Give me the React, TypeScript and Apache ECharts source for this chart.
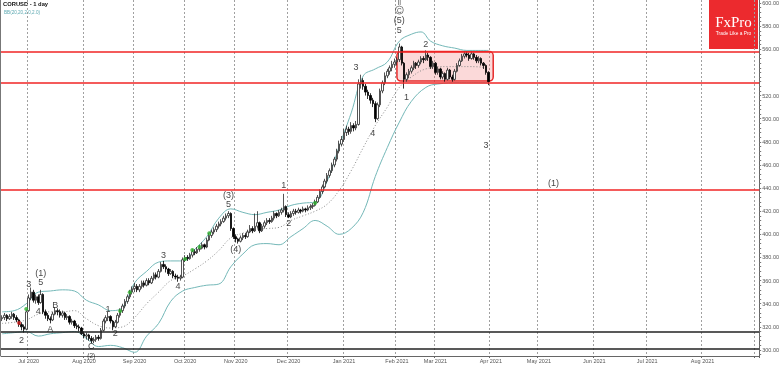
import React, { useEffect, useRef } from "react";
import * as echarts from "echarts";

// ---------- categories: month name + number of bars in that month ----------
const months: [string, number][] = [
  ["Jun 2020", 11], ["Jul 2020", 23], ["Aug 2020", 21], ["Sep 2020", 21],
  ["Oct 2020", 21], ["Nov 2020", 22], ["Dec 2020", 23], ["Jan 2021", 22],
  ["Feb 2021", 16], ["Mar 2021", 23], ["Apr 2021", 20], ["May 2021", 23],
  ["Jun 2021", 22], ["Jul 2021", 23], ["Aug 2021", 22], ["Sep 2021", 2],
];

// ---------- candles [open, close, low, high] ----------
const jun2020 = [
  [327,328,325,330],[328,330,326,332],[330,327,325,331],[327,329,326,331],[329,331,327,333],
  [331,328,326,332],[328,326,324,330],[326,322,320,327],[322,320,317,324],[320,318,315,322],
  [318,333,317,335],
];
const jul2020 = [
  [334,345,333,348],[345,350,343,354],[350,343,341,352],[343,346,340,348],[346,341,339,348],
  [341,348,340,352],[348,333,331,349],[333,330,327,335],[330,327,325,332],[327,326,323,329],
  [326,331,325,333],[331,334,330,337],[334,333,330,336],[333,330,328,335],[330,332,328,334],
  [332,328,326,333],[328,329,326,331],[329,324,322,330],[324,325,322,327],[325,321,319,326],
  [321,320,318,323],[320,319,316,322],[319,314,313,320],
];
const aug2020 = [
  [314,312,310,316],[312,313,309,315],[313,310,308,314],[310,308,306,312],[308,309,306,311],
  [309,311,307,313],[311,310,308,313],[310,317,309,319],[317,325,316,327],[325,328,323,330],
  [328,329,325,333],[329,325,323,330],[325,320,317,326],[320,324,319,326],[324,330,323,332],
  [330,334,328,336],[334,338,332,340],[338,342,336,344],[342,346,340,348],[346,350,344,352],
  [350,353,348,355],
];
const sep2020 = [
  [353,355,350,358],[355,352,350,357],[352,355,350,357],[355,358,353,360],[358,356,354,360],
  [356,360,355,362],[360,358,356,362],[358,362,357,364],[362,365,360,367],[365,363,361,367],
  [363,368,362,370],[368,374,367,376],[374,372,370,377],[372,370,367,374],[370,366,364,371],
  [366,368,365,370],[368,364,362,369],[364,363,361,366],[363,362,359,365],[362,363,360,365],
  [363,378,362,380],
];
const oct2020 = [
  [378,380,376,382],[380,379,377,382],[379,382,378,384],[382,385,380,387],[385,384,382,387],
  [384,387,383,389],[387,388,385,391],[388,391,387,393],[391,389,387,392],[389,395,388,397],
  [395,399,394,401],[399,402,397,404],[402,404,400,406],[404,407,402,409],[407,409,405,411],
  [409,411,407,413],[411,414,410,416],[414,416,412,418],[416,418,414,420],[418,405,403,419],
  [405,398,396,406],
];
const nov2020 = [
  [398,396,393,400],[396,394,392,397],[394,397,393,399],[397,399,395,401],[399,398,396,401],
  [398,402,397,404],[402,405,401,408],[405,403,401,407],[403,407,402,418],[407,410,405,420],
  [410,403,401,411],[403,407,402,409],[407,410,405,412],[410,412,408,414],[412,411,409,414],
  [411,414,410,416],[414,418,412,420],[418,416,414,419],[416,419,415,421],[419,421,417,423],
  [421,424,419,435],[424,417,415,425],
];
const dec2020 = [
  [417,415,414,419],[415,418,414,420],[418,420,416,422],[420,419,417,422],[419,421,418,423],
  [421,420,418,422],[420,422,419,424],[422,421,419,423],[421,423,420,425],[423,424,421,426],
  [424,425,422,427],[425,428,424,430],[428,432,427,434],[432,437,431,439],[437,441,435,443],
  [441,446,440,448],[446,451,444,453],[451,455,449,457],[455,460,453,462],[460,465,458,467],
  [465,472,463,474],[472,478,470,481],[478,482,476,485],
];
const jan2021 = [
  [482,488,480,491],[488,491,485,494],[491,489,486,493],[489,494,487,497],[494,492,489,496],
  [492,495,490,498],[495,530,494,534],[530,533,526,538],[533,528,525,535],[528,523,520,530],
  [523,520,517,525],[520,516,513,522],[516,513,510,518],[513,500,497,515],[500,512,499,514],
  [512,524,510,526],[524,531,522,533],[531,537,529,540],[537,541,535,543],[541,544,538,546],
  [544,547,541,550],[547,549,544,552],
];
const feb2021 = [
  [549,551,546,553],[551,562,549,565],[562,548,546,563],[548,534,526,549],[534,538,532,540],
  [538,541,535,543],[541,544,539,546],[544,548,542,550],[548,546,543,549],[546,549,544,551],
  [549,552,547,554],[552,551,548,554],[551,555,550,559],[555,553,550,557],[553,545,543,554],
  [545,548,543,550],
];
const mar2021 = [
  [548,540,538,549],[540,543,538,545],[543,536,534,544],[536,539,534,541],[539,534,532,540],
  [534,542,533,544],[542,536,534,543],[536,534,532,538],[534,541,533,543],[541,546,540,548],
  [546,550,545,552],[550,554,549,556],[554,556,552,558],[556,555,553,558],[555,552,550,557],
  [552,556,551,558],[556,553,551,557],[553,550,548,555],[550,552,548,554],[552,548,546,553],
  [548,546,543,549],[546,540,538,547],[540,532,529,541],
];

// ---------- Bollinger bands read at sample bars [barIndex, value] ----------
const upperBand: [number, number][] = [
  [0,333],[5,334],[10,340],[15,350],[20,351],[25,352],[30,351],[35,343],[40,339],[45,334],
  [50,337],[55,358],[60,368],[65,376],[70,377],[75,377],[80,387],[85,398],[90,414],[95,422],
  [100,419],[105,417],[110,419],[115,421],[120,425],[125,427],[130,428],[135,446],[140,476],
  [145,505],[150,537],[155,543],[160,549],[165,567],[170,573],[174,575],[178,567],[183,563],
  [188,561],[193,559],[198,559],[202,559],
];
const middleBand: [number, number][] = [
  [0,323],[5,324],[10,326],[15,331],[20,333],[25,333],[30,334],[35,327],[40,321],[45,319],
  [50,320],[55,328],[60,340],[65,350],[70,360],[75,364],[80,370],[85,377],[90,386],[95,397],
  [100,401],[105,404],[110,405],[115,406],[120,412],[125,416],[130,420],[135,426],[140,438],
  [145,455],[150,475],[155,494],[160,510],[165,527],[170,536],[176,543],[185,545],[195,545],
  [202,544],
];
const lowerBand: [number, number][] = [
  [0,314],[5,315],[10,316],[15,312],[20,314],[25,315],[30,316],[35,310],[40,303],[45,304],
  [50,302],[55,298],[60,312],[65,323],[70,342],[75,351],[80,354],[85,356],[90,357],[95,372],
  [100,383],[105,391],[110,392],[115,391],[120,398],[125,405],[130,412],[135,407],[140,400],
  [145,405],[150,419],[155,450],[160,475],[165,497],[170,515],[176,527],[181,530],[190,531],
  [202,531],
];

// ---------- levels, box, labels, markers ----------
// 540.00 is hidden behind the price tags in the reference
const yTicks = [300,320,340,360,380,400,420,440,460,480,500,520,560,580,600];
const redLevels = [557.8, 531, 438.2];
const blackLevels = [315.8, 300.9];
const boxRange = [[164, 558, 204, 532.5]];
// [level, text, background, text colour, border]
const priceTags: [number, string, string, string, string][] = [
  [548.6, "547.00", "#c5d9d9", "#222", "#9ab"],
  [540.0, "542.75", "#ffffff", "#222", "#888"],
  [527.45, "527.45", "#8585e0", "#ffffff", "#6a6ac8"],
];
const waveLabels: [number, number, string][] = [
  [11,357,"3"],[16,366.5,"(1)"],[16,358.8,"5"],[15,333.7,"4"],[22,338.9,"B"],[20,318.2,"A"],
  [8,308.6,"2"],[37,303.2,"C"],[44,335.4,"1"],[47,314.7,"2"],[67,382,"3"],
  [73,355.3,"4"],[94,434,"(3)"],[94,426.2,"5"],[97,387.3,"(4)"],[117,442.6,"1"],[119,409.8,"2"],
  [147,544.6,"3"],[154,487.6,"4"],[165,576.6,"5"],[165,585.2,"(5)"],[165,593.9,"Ⓒ"],
  [168,518.7,"1"],[176,564.5,"2"],[201,477.2,"3"],[229,444.3,"(1)"],
];
const smallLabels: [number, number, string][] = [[165,600.6,"II"],[37,295.6,"(2)"]];
const greenMarks: [number, number][] = [
  [10,335.5],[49,333.7],[53,350],[76,378.6],[79,386.4],[82,389],[86,401],[130,427],
];
const redMarks: [number, number][] = [[7,323.3]];

export default function App() {
  const ref = useRef<HTMLDivElement>(null);
  useEffect(() => {
    if (!ref.current) return;
    const chart = echarts.init(ref.current, undefined, { renderer: "svg" });

    const categories: string[] = [];
    months.forEach(([m, n]) => {
      for (let i = 0; i < n; i++) categories.push(m + "|" + i);
    });
    const candles = [
      ...jun2020, ...jul2020, ...aug2020, ...sep2020, ...oct2020,
      ...nov2020, ...dec2020, ...jan2021, ...feb2021, ...mar2021,
    ];
    const isStart = (v: string) => v.endsWith("|0") && !v.startsWith("Jun 2020");
    const isLabel = (v: string) => isStart(v) && !v.startsWith("Sep 2021");
    const minorTicks: number[] = [];
    for (let v = 296; v <= 602; v += 4) minorTicks.push(v);

    const font = "Liberation Sans";
    const markLineData: any[] = [
      ...redLevels.map((v) => ({ yAxis: v, lineStyle: { color: "#f02424", width: 1.5, type: "solid" }, label: { show: false } })),
      ...blackLevels.map((v) => ({ yAxis: v, lineStyle: { color: "#222", width: 1.5, type: "solid" }, label: { show: false } })),
      ...priceTags.map(([v, t, bg, fg, bd]) => ({
        yAxis: v,
        lineStyle: { width: 0, opacity: 0 },
        label: {
          show: true, position: "end", formatter: t, backgroundColor: bg, color: fg,
          borderColor: bd, borderWidth: 0.5, fontSize: 5, fontFamily: font,
          padding: [0.5, 1], distance: 1, lineHeight: 5.5,
        },
      })),
    ];

    const labelSeries = (data: [number, number, string][], size: number) => ({
      type: "scatter",
      data: data.map(([x, y, t]) => ({
        value: [x, y],
        name: t,
        label: { formatter: t === "Ⓒ" ? "{c|C}" : t },
      })),
      symbol: "circle",
      symbolSize: 0.1,
      itemStyle: { color: "#111" },
      silent: true,
      z: 10,
      label: {
        show: true,
        position: "inside",
        color: "#111",
        textBorderWidth: 0,
        fontSize: size,
        fontFamily: font,
        rich: {
          c: {
            fontSize: 6.5, color: "#111", fontFamily: font,
            borderColor: "#333", borderWidth: 0.7, borderRadius: 5,
            width: 8, height: 8, lineHeight: 8, align: "center", padding: 0,
          },
        },
      },
    });

    chart.setOption({
      animation: false,
      backgroundColor: "#ffffff",
      grid: { left: 1, right: 19, top: 0, bottom: 10, containLabel: false },
      xAxis: {
        type: "category",
        data: categories,
        boundaryGap: true,
        axisLine: { show: true, lineStyle: { color: "#666", width: 1 } },
        axisTick: { show: true, interval: (_i: number, v: string) => isStart(v), length: 2, lineStyle: { color: "#666" } },
        axisLabel: {
          interval: (_i: number, v: string) => isLabel(v),
          formatter: (v: string) => (isLabel(v) ? v.split("|")[0] : ""),
          fontSize: 5.5, color: "#555", margin: 2, fontFamily: font,
        },
        splitLine: {
          show: true,
          interval: (_i: number, v: string) => isStart(v),
          lineStyle: { color: "#a0a0a0", type: [2, 2], width: 1 },
        },
      },
      yAxis: {
        type: "value",
        position: "right",
        min: 294.8,
        max: 602.6,
        splitLine: { show: false },
        axisLine: { show: true, lineStyle: { color: "#666", width: 1 } },
        axisTick: { show: true, customValues: minorTicks, length: 2, lineStyle: { color: "#777" } },
        axisLabel: {
          customValues: yTicks,
          formatter: (v: number) => v.toFixed(2),
          fontSize: 5.5, color: "#555", margin: 3, fontFamily: font,
        },
      },
      series: [
        {
          type: "custom",
          renderItem: (_p: any, api: any) => {
            const a = api.coord([api.value(0), api.value(1)]);
            const b = api.coord([api.value(2), api.value(3)]);
            return {
              type: "rect",
              shape: { x: a[0], y: a[1], width: b[0] - a[0], height: b[1] - a[1], r: 4 },
              style: { fill: "rgba(238,80,80,0.22)", stroke: "#e62a2a", lineWidth: 1.5 },
            };
          },
          encode: { x: [0, 2], y: [1, 3] },
          data: boxRange,
          z: 1,
          silent: true,
        },
        {
          type: "line", data: upperBand, symbol: "none", smooth: 0.4, silent: true,
          lineStyle: { color: "#74b8b8", width: 1 }, z: 3,
        },
        {
          type: "line", data: lowerBand, symbol: "none", smooth: 0.4, silent: true,
          lineStyle: { color: "#74b8b8", width: 1 }, z: 3,
        },
        {
          type: "line", data: middleBand, symbol: "none", smooth: 0.4, silent: true,
          lineStyle: { color: "#8a8a8a", width: 1, type: [1, 2] }, z: 3,
        },
        {
          type: "candlestick",
          data: candles,
          barWidth: 2,
          silent: true,
          z: 4,
          itemStyle: {
            color: "#ffffff", color0: "#000000",
            borderColor: "#2a2a2a", borderColor0: "#000000", borderWidth: 0.8,
          },
          markLine: { symbol: ["none", "none"], silent: true, data: markLineData, z: 6 },
        },
        {
          type: "scatter", data: greenMarks, symbol: "circle", symbolSize: 4,
          itemStyle: { color: "#2fb02f" }, silent: true, z: 7,
        },
        {
          type: "scatter", data: redMarks, symbol: "circle", symbolSize: 4,
          itemStyle: { color: "#d42020" }, silent: true, z: 7,
        },
        labelSeries(waveLabels, 9),
        labelSeries(smallLabels, 6.5),
      ],
      graphic: [
        { type: "line", shape: { x1: 0.5, y1: 0, x2: 0.5, y2: 356 }, style: { stroke: "#777", lineWidth: 1 }, silent: true },
        { type: "text", left: 3, top: 1, style: { text: "CORUSD - 1 day", fontSize: 5.8, fontWeight: "bold", fill: "#111", fontFamily: font } },
        { type: "text", left: 4, top: 10, style: { text: "BB(20,20,2.0,2.0)", fontSize: 4.6, fill: "#5aa7b0", fontFamily: font } },
        { type: "rect", shape: { x: 709, y: 0, width: 49, height: 49 }, style: { fill: "#ec2a2e" }, silent: true },
        { type: "text", x: 733.5, y: 22, style: { text: "FxPro", fontSize: 15, fill: "#ffffff", fontFamily: "Liberation Serif", align: "center", verticalAlign: "middle" }, silent: true },
        { type: "text", x: 733.5, y: 33.5, style: { text: "Trade Like a Pro", fontSize: 4.8, fill: "#ffffff", fontFamily: font, align: "center", verticalAlign: "middle" }, silent: true },
      ],
    });
    return () => chart.dispose();
  }, []);
  return (
    <div
      ref={ref}
      style={{ position: "fixed", left: 0, top: 0, width: 782, height: 366, background: "transparent", willChange: "transform" }}
    />
  );
}
